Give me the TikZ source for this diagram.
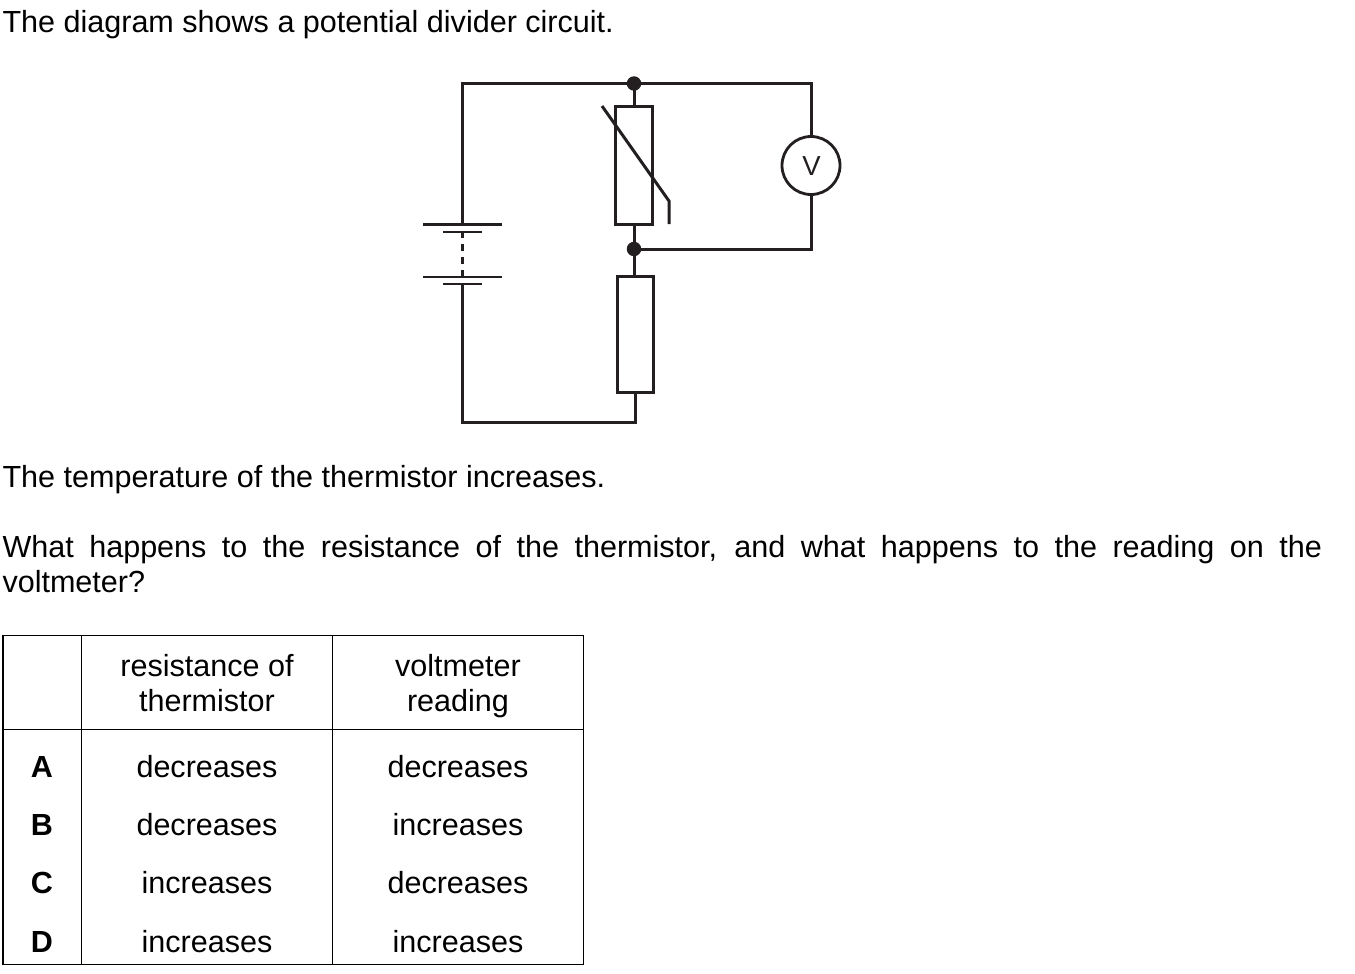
\documentclass[tikz,border=0pt]{standalone}
\usepackage{fontspec}
\setmainfont{Liberation Sans}
\definecolor{ink}{HTML}{231F20}
\tikzset{
  wire/.style={draw=ink,line width=3pt,line cap=butt,line join=miter},
  part/.style={draw=ink,line width=3pt,fill=white,inner sep=0pt,minimum width=#1},
  dot/.style={circle,fill=ink,inner sep=0pt,minimum size=14.5pt},
  para/.style={anchor=base west,inner sep=0pt,outer sep=0pt,text=black,font=\fontsize{30.55}{35}\selectfont},
  cell/.style={anchor=base,inner sep=0pt,outer sep=0pt,text=black,font=\fontsize{30.55}{35}\selectfont},
  bcell/.style={cell,font=\fontsize{30.55}{35}\selectfont\bfseries},
  rule/.style={draw=black,line width=1.3pt}
}
\begin{document}
\begin{tikzpicture}[x=1pt,y=-1pt]
\useasboundingbox (0,0) rectangle (1355,974);
% text
\node[para] (t1) at (2.5,32.5) {The diagram shows a potential divider circuit.};
\node[para] (t2) at (2.5,487) {The temperature of the thermistor increases.};
\node[para] (t3) at (2.5,557) {\makebox[1319.5pt][s]{What happens to the resistance of the thermistor, and what happens to the reading on the}};
\node[para] (t4) at (2.5,592) {voltmeter?};
% circuit junctions
\node[dot] (j1) at (634,83.5) {};
\node[dot] (j2) at (634,249) {};
\node[draw=ink,line width=2.8pt,circle,fill=white,minimum size=58pt,inner sep=0pt] (vm) at (811,165.5) {};
\node[inner sep=0pt,text=ink,font=\fontsize{27.5}{30}\selectfont] (vl) at (811.5,166.5) {V};
\coordinate (tl) at (462.5,83.5);
\coordinate (tr) at (811,83.5);
\coordinate (br) at (811,249);
\coordinate (bl) at (462.5,422);
\coordinate (bm) at (635,422);
\node[part=37pt,minimum height=118pt] (th) at (634,165.5) {};
\node[part=36pt,minimum height=116pt] (res) at (635,334) {};
% battery
\coordinate (c1t) at (462.5,224);
\coordinate (c1b) at (462.5,232);
\coordinate (c2t) at (462.5,277);
\coordinate (c2b) at (462.5,284);
\draw[wire] (c1t) -- (tl) -- (j1.center) -- (tr) -- (vm.north);
\draw[wire] (vm.south) -- (br) -- (j2.center);
\draw[wire] (j1.center) -- (th.north);
\draw[wire] (th.south) -- (j2.center);
\draw[wire] (j2.center) -- (j2.center |- res.north);
\draw[wire] (res.south) -- (bm) -- (bl) -- (c2b);
\draw[draw=ink,line width=3pt] (c1t -| 423,0) -- (c1t -| 502,0);
\draw[draw=ink,line width=2.8pt] (c1b -| 443,0) -- (c1b -| 482,0);
\draw[draw=ink,line width=2.8pt] (c2t -| 423,0) -- (c2t -| 502,0);
\draw[draw=ink,line width=2.8pt] (c2b -| 443,0) -- (c2b -| 482,0);
\draw[draw=ink,line width=2.8pt,dash pattern=on 7pt off 6pt,dash phase=1pt] (c1b) -- (c2t);
% thermistor stroke
\coordinate (s1) at (602,106);
\coordinate (s2) at (669,201);
\coordinate (s3) at (669,224);
\draw[draw=ink,line width=3pt] (s1) -- (s2) -- (s3);
% table
\draw[rule] (3,635.5) rectangle (583.5,964.5);
\draw[rule] (81.5,635.5) -- (81.5,964.5);
\draw[rule] (332.5,635.5) -- (332.5,964.5);
\draw[rule] (3,729.5) -- (583.5,729.5);
\node[cell] (h1a) at (207,676) {resistance of};
\node[cell] (h1b) at (207,711) {thermistor};
\node[cell] (h2a) at (458,676) {voltmeter};
\node[cell] (h2b) at (458,711) {reading};
\node[bcell] (la) at (42,777) {A};
\node[bcell] (lb) at (42,835) {B};
\node[bcell] (lc) at (42,893) {C};
\node[bcell] (ld) at (42,952) {D};
\node[cell] (a1) at (207,777) {decreases};
\node[cell] (a2) at (458,777) {decreases};
\node[cell] (b1) at (207,835) {decreases};
\node[cell] (b2) at (458,835) {increases};
\node[cell] (c1) at (207,893) {increases};
\node[cell] (c2) at (458,893) {decreases};
\node[cell] (d1) at (207,952) {increases};
\node[cell] (d2) at (458,952) {increases};
\end{tikzpicture}
\end{document}
